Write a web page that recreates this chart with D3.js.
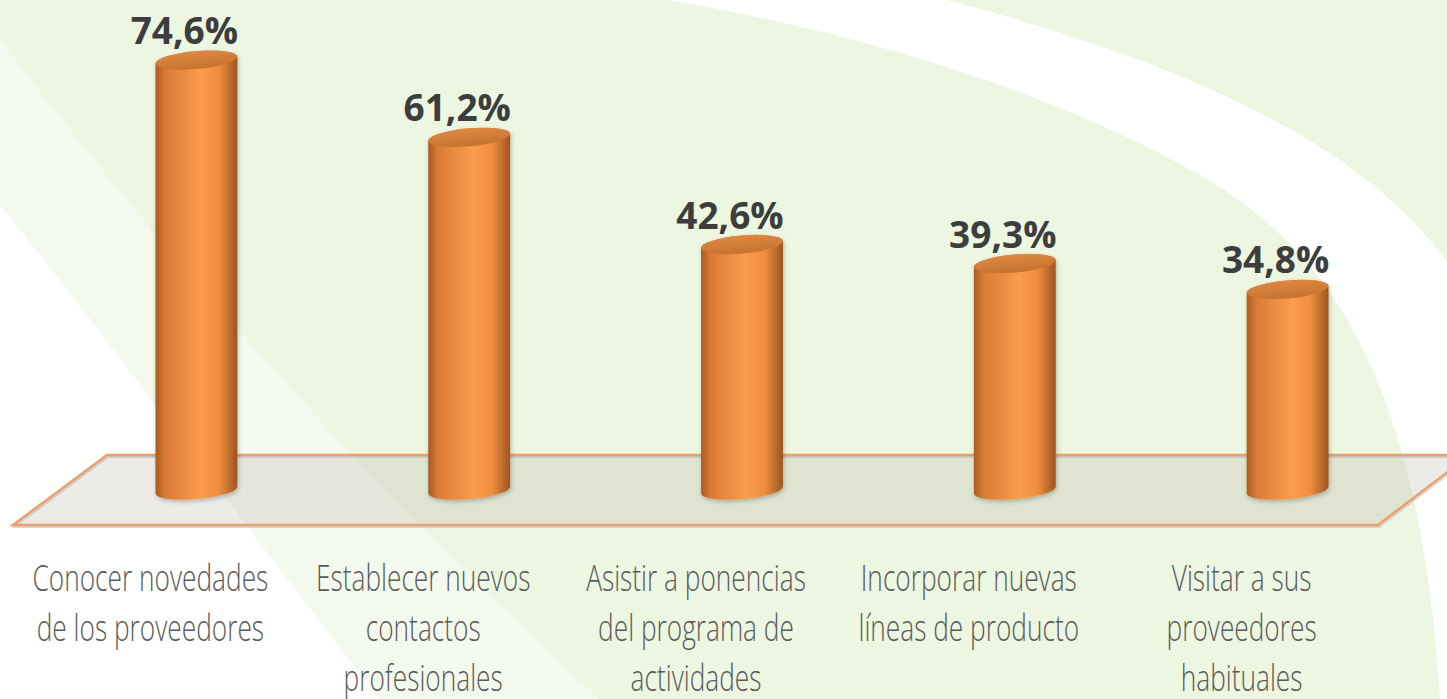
<!DOCTYPE html>
<html>
<head>
<meta charset="utf-8">
<script src="https://cdn.jsdelivr.net/npm/d3@7"></script>
<style>
  body { margin: 0; background: #ecf6e1; overflow: hidden; }
  svg { display: block; }
  .value { font-family: "Open Sans", sans-serif; font-weight: 700; font-size: 37px; fill: #3d3d3d; }
  .cat { font-family: "Open Sans", sans-serif; font-weight: 300; font-size: 37px; fill: #5a5a5a; }
</style>
</head>
<body>
<svg width="1447" height="699"></svg>
<script>
var categories = [
    ["Conocer novedades", "de los proveedores"],
    ["Establecer nuevos", "contactos", "profesionales"],
    ["Asistir a ponencias", "del programa de", "actividades"],
    ["Incorporar nuevas", "líneas de producto"],
    ["Visitar a sus", "proveedores", "habituales"]
];
var values = [74.6, 61.2, 42.6, 39.3, 34.8];
var valueLabels = ["74,6%", "61,2%", "42,6%", "39,3%", "34,8%"];

var svg = d3.select("svg");
var width = 1447, height = 699;

// background decoration
svg.append("rect").attr("width", width).attr("height", height).attr("fill", "#ecf6e1");
svg.append("path")
    .attr("d", "M0,40 C160,250 380,500 600,699 L0,699 Z")
    .attr("fill", "#f3f9ec");
svg.append("path")
    .attr("d", "M0,205 C110,340 240,520 380,699 L0,699 Z")
    .attr("fill", "#ffffff");
svg.append("path")
    .attr("d", "M667,0 C850,30 1050,90 1200,175 C1330,250 1420,380 1440,699 L1447,699 L1447,262 C1380,170 1250,80 947,0 Z")
    .attr("fill", "#ffffff");

var keys = d3.range(values.length);
var xScale = d3.scaleBand().domain(keys).range([60, 1424]).paddingInner(0.7).paddingOuter(0.35);
var yScale = d3.scaleLinear().domain([0, 80]).range([490, 29]);

var defs = svg.append("defs");
var grad = defs.append("linearGradient").attr("id", "cyl").attr("x1", "0").attr("x2", "1").attr("y1", "0").attr("y2", "0");
grad.append("stop").attr("offset", "0%").attr("stop-color", "#a95b22");
grad.append("stop").attr("offset", "12%").attr("stop-color", "#d97b35");
grad.append("stop").attr("offset", "55%").attr("stop-color", "#fb9d4c");
grad.append("stop").attr("offset", "78%").attr("stop-color", "#ee8e3e");
grad.append("stop").attr("offset", "100%").attr("stop-color", "#9c5420");

var topGrad = defs.append("linearGradient").attr("id", "cyltop").attr("x1", "0").attr("x2", "0").attr("y1", "0").attr("y2", "1");
topGrad.append("stop").attr("offset", "0%").attr("stop-color", "#de8841");
topGrad.append("stop").attr("offset", "100%").attr("stop-color", "#c6722f");

var shadow = defs.append("filter").attr("id", "sh").attr("x", "-20%").attr("y", "-20%").attr("width", "140%").attr("height", "140%");
shadow.append("feDropShadow").attr("dx", 1).attr("dy", 2).attr("stdDeviation", 2).attr("flood-color", "#000").attr("flood-opacity", 0.25);

// floor
var floorTop = 455, floorBottom = 525;
var floorPts = [[107, floorTop], [1470, floorTop], [1378, floorBottom], [13, floorBottom]];
svg.append("polygon")
    .attr("points", floorPts.map(function(p) { return [p[0] + 1, p[1] + 2].join(","); }).join(" "))
    .attr("fill", "none").attr("stroke", "#bdbdbd").attr("stroke-width", 2).attr("opacity", 0.6);
svg.append("polygon")
    .attr("points", floorPts.map(function(p) { return p.join(","); }).join(" "))
    .attr("fill", "rgba(175,165,150,0.22)")
    .attr("stroke", "#eba06b")
    .attr("stroke-width", 2.5);

var bw = xScale.bandwidth();
var rx = bw / 2, ry = 9, tilt = -5;
var d = rx * Math.sin(-tilt * Math.PI / 180);

var bars = svg.selectAll(".bar").data(keys).enter().append("g").attr("class", "bar").attr("filter", "url(#sh)");

bars.append("path")
    .attr("fill", "url(#cyl)")
    .attr("d", function(i) {
        var x0 = xScale(i), x1 = x0 + bw;
        var yT = yScale(values[i]), yB = yScale(0);
        return "M" + x0 + "," + (yT + d) +
            " L" + x0 + "," + (yB + d) +
            " A" + rx + "," + ry + " " + tilt + " 0 0 " + x1 + "," + (yB - d) +
            " L" + x1 + "," + (yT - d) +
            " A" + rx + "," + ry + " " + tilt + " 0 0 " + x0 + "," + (yT + d) + " Z";
    });

bars.append("ellipse")
    .attr("cx", function(i) { return xScale(i) + bw / 2; })
    .attr("cy", function(i) { return yScale(values[i]); })
    .attr("rx", rx).attr("ry", ry)
    .attr("transform", function(i) { return "rotate(" + tilt + "," + (xScale(i) + bw / 2) + "," + yScale(values[i]) + ")"; })
    .attr("fill", "url(#cyltop)");

svg.selectAll(".value").data(keys).enter().append("text")
    .attr("class", "value")
    .attr("text-anchor", "middle")
    .attr("x", function(i) { return xScale(i) + bw / 2 - 12; })
    .attr("y", function(i) { return yScale(values[i]) - 16; })
    .text(function(i) { return valueLabels[i]; });

var catG = svg.selectAll(".catg").data(keys).enter().append("g")
    .attr("class", "catg")
    .attr("transform", function(i) { return "translate(" + (xScale(i) + bw / 2 - 46) + ",0) scale(0.71,1)"; });

catG.selectAll("text").data(function(i) { return categories[i]; }).enter().append("text")
    .attr("class", "cat")
    .attr("text-anchor", "middle")
    .attr("x", 0)
    .attr("y", function(t, j) { return 591 + j * 50; })
    .text(function(t) { return t; });
</script>
</body>
</html>
